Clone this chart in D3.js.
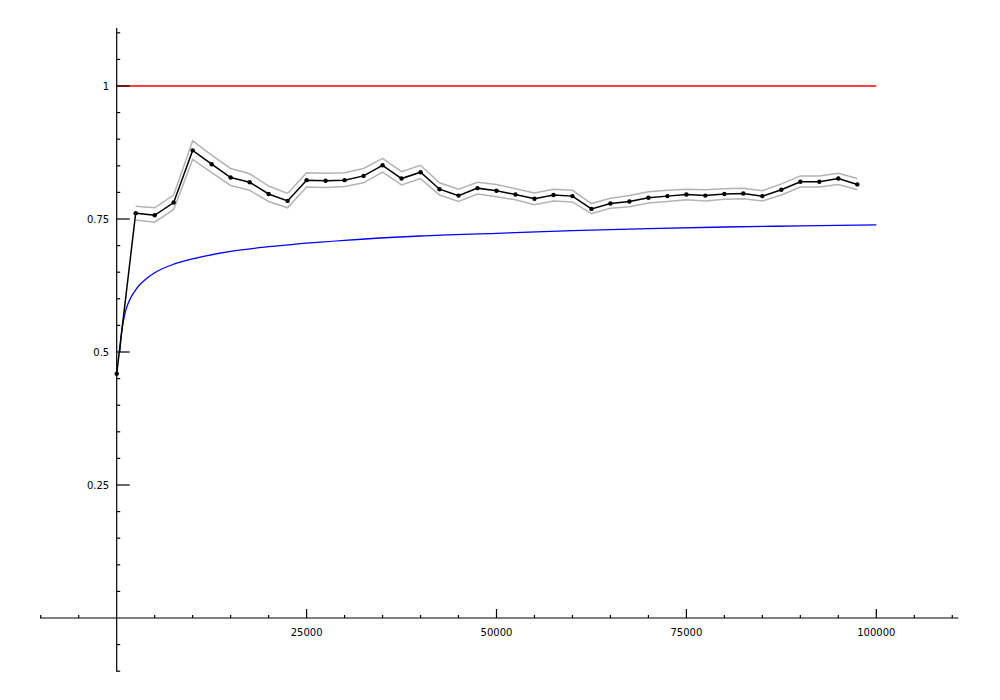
<!DOCTYPE html>
<html>
<head>
<meta charset="utf-8">
<script src="https://cdn.jsdelivr.net/npm/d3@7"></script>
<style>
  html, body { margin: 0; padding: 0; background: #fff; }
  svg { display: block; }
  text { font-family: "DejaVu Sans", sans-serif; font-size: 10px; fill: #000; }
</style>
</head>
<body>
<svg id="chart" width="1000" height="700"></svg>
<script>
// ---- data ----
const sampleX = d3.range(0, 100000, 2500); // 40 sample positions
const rate = [0.459, 0.761, 0.757, 0.781, 0.879, 0.853, 0.828, 0.819, 0.797, 0.784,
              0.823, 0.822, 0.823, 0.831, 0.851, 0.826, 0.838, 0.806, 0.794, 0.808,
              0.803, 0.796, 0.788, 0.795, 0.793, 0.769, 0.779, 0.783, 0.790, 0.793,
              0.796, 0.794, 0.797, 0.798, 0.793, 0.805, 0.820, 0.820, 0.826, 0.815];
const upper = [null, 0.774, 0.771, 0.795, 0.897, 0.870, 0.845, 0.835, 0.812, 0.798,
               0.837, 0.836, 0.837, 0.845, 0.864, 0.839, 0.851, 0.818, 0.806, 0.819,
               0.815, 0.807, 0.799, 0.806, 0.804, 0.779, 0.789, 0.794, 0.801, 0.804,
               0.806, 0.805, 0.807, 0.808, 0.803, 0.816, 0.831, 0.831, 0.836, 0.826];
const lower = [null, 0.748, 0.744, 0.768, 0.862, 0.837, 0.813, 0.804, 0.783, 0.771,
               0.810, 0.809, 0.811, 0.818, 0.838, 0.814, 0.826, 0.795, 0.783, 0.797,
               0.792, 0.786, 0.777, 0.784, 0.782, 0.760, 0.770, 0.773, 0.780, 0.783,
               0.786, 0.784, 0.787, 0.788, 0.784, 0.795, 0.810, 0.810, 0.815, 0.805];
const refX = [0, 100000];
const refY = [1, 1];
const curveX = [400, 550, 700, 850, 1000, 1250, 1500, 2000, 2500, 3000, 4000, 5000,
                7500, 10000, 15000, 20000, 30000, 40000, 50000, 60000, 70000, 80000,
                90000, 100000];
const curveY = [0.499, 0.525, 0.543, 0.556, 0.567, 0.581, 0.591, 0.606, 0.617, 0.626,
                0.639, 0.649, 0.665, 0.675, 0.689, 0.698, 0.710, 0.718, 0.723, 0.728,
                0.732, 0.735, 0.737, 0.739];
const xTickMajor = [25000, 50000, 75000, 100000];
const xTickLabels = ["25000", "50000", "75000", "100000"];
const yTickMajor = [0.25, 0.5, 0.75, 1];
const yTickLabels = ["0.25", "0.5", "0.75", "1"];
const xMinor = d3.range(-10000, 110001, 5000);
const yMinor = d3.range(-0.1, 1.1001, 0.05);

// ---- scales ----
const x = d3.scaleLinear().domain([0, 100000]).range([116.7, 876.3]);
const y = d3.scaleLinear().domain([0, 1]).range([618, 86]);
const xLo = -10100, xHi = 110800, yLo = -0.101, yHi = 1.109;

const svg = d3.select("#chart");

// blue curve (under)
svg.append("path")
  .datum(curveX.map((v, i) => [v, curveY[i]]))
  .attr("fill", "none").attr("stroke", "#0000ff").attr("stroke-width", 1.3)
  .attr("d", d3.line().x(d => x(d[0])).y(d => y(d[1])).curve(d3.curveMonotoneX));

// red reference line
svg.append("path")
  .datum(refX.map((v, i) => [v, refY[i]]))
  .attr("fill", "none").attr("stroke", "#ff0000").attr("stroke-width", 1.3)
  .attr("d", d3.line().x(d => x(d[0])).y(d => y(d[1])));

// grey bands
const bandLine = d3.line().defined(d => d[1] != null).x(d => x(d[0])).y(d => y(d[1]));
[upper, lower].forEach(arr => {
  svg.append("path")
    .datum(sampleX.map((v, i) => [v, arr[i]]))
    .attr("fill", "none").attr("stroke", "#b3b3b3").attr("stroke-width", 1.5)
    .attr("d", bandLine);
});

// axes
const ax = svg.append("g").attr("stroke", "#000").attr("stroke-width", 1.2);
ax.append("line").attr("x1", x(xLo)).attr("x2", x(xHi)).attr("y1", y(0)).attr("y2", y(0));
ax.append("line").attr("x1", x(0)).attr("x2", x(0)).attr("y1", y(yLo)).attr("y2", y(yHi));
xMinor.forEach(v => {
  if (xTickMajor.includes(v) || v === 0) return;
  ax.append("line").attr("x1", x(v)).attr("x2", x(v)).attr("y1", y(0)).attr("y2", y(0) - 3);
});
xTickMajor.forEach(v => {
  ax.append("line").attr("x1", x(v)).attr("x2", x(v)).attr("y1", y(0)).attr("y2", y(0) - 9);
});
yMinor.forEach(v => {
  const r = Math.round(v * 100) / 100;
  if (yTickMajor.includes(r) || r === 0) return;
  ax.append("line").attr("x1", x(0)).attr("x2", x(0) + 3.5).attr("y1", y(r)).attr("y2", y(r));
});
yTickMajor.forEach(v => {
  ax.append("line").attr("x1", x(0)).attr("x2", x(0) + 13).attr("y1", y(v)).attr("y2", y(v));
});

// tick labels
xTickMajor.forEach((v, i) => {
  svg.append("text").attr("x", x(v)).attr("y", y(0) + 17.5)
    .attr("text-anchor", "middle").text(xTickLabels[i]);
});
yTickMajor.forEach((v, i) => {
  svg.append("text").attr("x", x(0) - 7.5).attr("y", y(v) + 3.7)
    .attr("text-anchor", "end").text(yTickLabels[i]);
});

// black series
svg.append("path")
  .datum(sampleX.map((v, i) => [v, rate[i]]))
  .attr("fill", "none").attr("stroke", "#000").attr("stroke-width", 1.5)
  .attr("d", d3.line().x(d => x(d[0])).y(d => y(d[1])));
svg.append("g").selectAll("circle")
  .data(sampleX.map((v, i) => [v, rate[i]]))
  .join("circle")
  .attr("cx", d => x(d[0])).attr("cy", d => y(d[1])).attr("r", 2.2).attr("fill", "#000");
</script>
</body>
</html>
